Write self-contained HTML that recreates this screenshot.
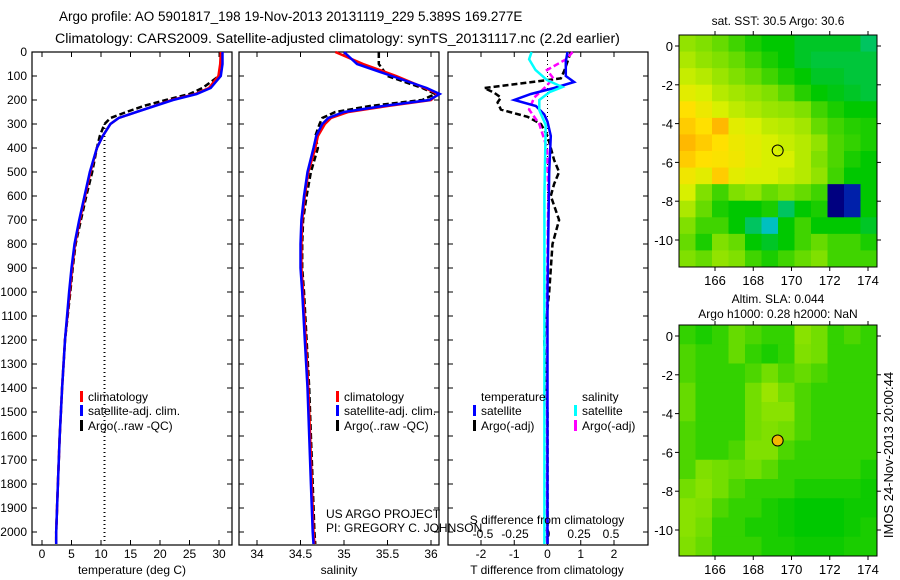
<!DOCTYPE html>
<html><head><meta charset="utf-8"><style>
body{margin:0;background:#fff;}
svg{display:block;font-family:"Liberation Sans",sans-serif;font-size:12px;}
</style></head><body>
<svg id="fig" width="900" height="580" viewBox="0 0 900 580" xmlns="http://www.w3.org/2000/svg">
<text x="59" y="21" font-size="13.5">Argo profile: AO 5901817_198 19-Nov-2013 20131119_229 5.389S 169.277E</text>
<text x="55" y="43" font-size="14.2">Climatology: CARS2009. Satellite-adjusted climatology: synTS_20131117.nc (2.2d earlier)</text>
<g id="layer"></g>
</svg>
<script>
// ---- data ----
const depthClim=[0,50,100,150,175,200,225,250,275,300,350,400,500,600,700,800,900,1000,1200,1400,1600,1800,2000,2050];
const tempClim=[30.3,30.2,29.9,28.3,26,22,19,16,13,11.6,10.3,9.3,8.2,7.3,6.4,5.6,5.1,4.7,3.9,3.4,3.0,2.7,2.4,2.4];
const tempSat=[30.6,30.6,30.3,28.6,26.2,22.2,19.1,16,13,11.6,10.3,9.3,8.1,7.2,6.3,5.5,5.0,4.6,3.9,3.4,3.0,2.7,2.4,2.4];
const tempArgo=[30.4,30.3,30.0,27.2,25,21,17.2,14.3,11.6,10.6,9.8,9.3,8.5,7.5,6.6,5.7,5.2,4.8,3.9,3.4,3.0,2.7,2.4,2.4];
const depthRaw=[300,2050];
const tempRaw=[10.6,10.6];
const salClim=[34.9,35.22,35.6,35.93,36.08,36.0,35.5,35.05,34.85,34.78,34.7,34.67,34.59,34.55,34.52,34.51,34.51,34.53,34.56,34.59,34.61,34.63,34.65,34.66];
const salSat=[35.0,35.15,35.55,35.95,36.1,35.98,35.45,35.0,34.82,34.75,34.68,34.65,34.58,34.54,34.51,34.5,34.5,34.52,34.55,34.58,34.6,34.62,34.64,34.65];
const salArgo=[35.4,35.4,35.5,35.9,36.05,35.9,35.3,34.9,34.75,34.72,34.67,34.7,34.62,34.57,34.53,34.52,34.52,34.54,34.57,34.6,34.62,34.64,34.66,34.67];
const depthDT=[0,40,100,125,150,175,200,225,260,290,350,500,1000,2050];
const dTsat=[0.6,0.55,0.55,0.8,0.2,-0.5,-1.0,-0.35,-0.1,0,0.1,0.05,0,0];
const depthDS=[0,30,75,117,146,167,200,242,304,600,2050];
const dSsat=[-0.12,-0.14,-0.09,0,0.12,0.02,-0.06,-0.06,-0.01,-0.02,-0.02];
const depthAT=[0,40,80,110,150,170,190,210,240,270,300,350,400,450,500,550,600,700,800,1000,1200,1500,2050];
const dTargo=[0.7,0.6,0.5,0.4,-1.9,-1.6,-1.4,-1.5,-1.4,-0.6,-0.2,0,0.1,0.2,0.35,0.2,0.1,0.35,0.15,0.05,-0.1,0,0];
const depthAS=[0,30,75,110,150,190,240,300,400,600,1000,2050];
const dSargo=[0.2,0.15,0,0.05,-0.02,-0.1,-0.14,-0.06,0,0.01,0,0];
const depthTicks=[0,100,200,300,400,500,600,700,800,900,1000,1100,1200,1300,1400,1500,1600,1700,1800,1900,2000];
const tempTicks=[0,5,10,15,20,25,30];
const salTicks=[34,34.5,35,35.5,36];
const dTTicks=[-2,-1,0,1,2];
const dSTicks=[-0.5,-0.25,0,0.25,0.5];
const lonTicks=[166,168,170,172,174];
const latTicks=[0,-2,-4,-6,-8,-10];
const sstGrid=[
[0.62,0.6,0.58,0.55,0.52,0.5,0.5,0.48,0.48,0.48,0.48,0.45],
[0.65,0.62,0.6,0.58,0.55,0.52,0.5,0.48,0.47,0.47,0.47,0.47],
[0.68,0.66,0.63,0.6,0.58,0.55,0.52,0.5,0.48,0.48,0.47,0.47],
[0.72,0.7,0.66,0.64,0.62,0.6,0.57,0.53,0.5,0.49,0.48,0.47],
[0.78,0.74,0.7,0.67,0.65,0.63,0.62,0.6,0.55,0.52,0.5,0.5],
[0.8,0.78,0.82,0.72,0.7,0.67,0.66,0.64,0.58,0.55,0.53,0.52],
[0.82,0.8,0.78,0.74,0.72,0.7,0.68,0.66,0.62,0.56,0.54,0.52],
[0.8,0.78,0.77,0.75,0.72,0.7,0.7,0.66,0.6,0.56,0.52,0.5],
[0.75,0.72,0.8,0.72,0.7,0.7,0.68,0.66,0.62,0.55,0.5,0.5],
[0.7,0.6,0.55,0.6,0.62,0.58,0.6,0.58,0.55,0.15,0.2,0.5],
[0.65,0.58,0.52,0.5,0.5,0.52,0.45,0.5,0.52,0.15,0.2,0.5],
[0.6,0.55,0.55,0.5,0.45,0.4,0.5,0.55,0.5,0.5,0.5,0.48],
[0.58,0.52,0.6,0.58,0.5,0.48,0.5,0.55,0.58,0.55,0.55,0.52],
[0.6,0.58,0.62,0.6,0.55,0.52,0.55,0.58,0.6,0.55,0.55,0.55]];
const slaGrid=[
[0.54,0.52,0.54,0.58,0.56,0.54,0.54,0.61,0.59,0.54,0.56,0.54],
[0.56,0.54,0.54,0.58,0.54,0.52,0.54,0.6,0.59,0.54,0.54,0.54],
[0.56,0.54,0.54,0.54,0.56,0.59,0.56,0.58,0.56,0.54,0.54,0.54],
[0.58,0.54,0.54,0.54,0.59,0.63,0.59,0.56,0.54,0.54,0.54,0.54],
[0.58,0.54,0.54,0.54,0.59,0.61,0.61,0.56,0.54,0.54,0.54,0.54],
[0.56,0.54,0.54,0.54,0.59,0.6,0.59,0.56,0.54,0.54,0.54,0.54],
[0.56,0.54,0.54,0.56,0.6,0.6,0.56,0.54,0.54,0.54,0.54,0.54],
[0.56,0.6,0.59,0.58,0.59,0.57,0.54,0.54,0.54,0.54,0.54,0.52],
[0.59,0.61,0.59,0.56,0.54,0.54,0.54,0.52,0.52,0.52,0.52,0.51],
[0.61,0.6,0.56,0.54,0.54,0.52,0.51,0.5,0.5,0.5,0.51,0.51],
[0.61,0.59,0.54,0.54,0.52,0.52,0.51,0.5,0.5,0.5,0.51,0.52],
[0.6,0.58,0.54,0.54,0.54,0.52,0.52,0.51,0.51,0.51,0.52,0.52]];
const argoLon=169.277, argoLat=-5.389;

// ---- helpers ----
const NS="http://www.w3.org/2000/svg";
const L=document.getElementById('layer');
function mk(tag,attrs,parent){const e=document.createElementNS(NS,tag);for(const k in attrs)e.setAttribute(k,attrs[k]);(parent||L).appendChild(e);return e;}
function lin(d0,d1,r0,r1){return v=>r0+(v-d0)*(r1-r0)/(d1-d0);}
const yD=lin(0,2000,52,532);
const PB=545;
function panel(x0,x1,name){const r=mk('rect',{x:x0,y:52,width:x1-x0,height:PB-52,fill:'none',stroke:'#000','stroke-width':1.2});

}
function line(xs,ds,sx,color,w,dash,name){const pts=xs.map((v,i)=>sx(v).toFixed(1)+','+yD(ds[i]).toFixed(1)).join(' ');
const p=mk('polyline',{points:pts,fill:'none',stroke:color,'stroke-width':w,'stroke-dasharray':dash||'none'});

}
function txt(x,y,s,name,anchor,size){const t=mk('text',{x:x,y:y,'text-anchor':anchor||'start','font-size':size||12});t.textContent=s;

return t;}
function xticks(vals,sx,labY,name,x0,x1,top){vals.forEach(v=>{const x=sx(v);mk('line',{x1:x,x2:x,y1:PB,y2:PB-5,stroke:'#000'});if(top)mk('line',{x1:x,x2:x,y1:52,y2:57,stroke:'#000'});if(labY)txt(x,labY,String(v),name,'middle');});}
function yticks(x0,x1){depthTicks.forEach(d=>{const y=yD(d);mk('line',{x1:x0,x2:x0+5,y1:y,y2:y,stroke:'#000'});mk('line',{x1:x1,x2:x1-5,y1:y,y2:y,stroke:'#000'});});}
function legendMark(x,y,color){const r=mk('rect',{x:x,y:y-10,width:3,height:11,fill:color});

}

// depth labels
depthTicks.forEach(d=>txt(27,yD(d)+4,String(d),'depth-tick-label','end'));

// ---- panel 1: temperature ----
const sT=lin(0,30,42,219);
panel(32,232,'temperature-panel');yticks(32,232);
xticks(tempTicks,sT,558,'temperature-tick-label',32,232,true);
line(tempRaw,depthRaw,sT,'#000',2,'1 3','argo-raw-temperature');
line(tempArgo,depthClim,sT,'#000',2.5,'6 3','argo-temperature');
line(tempClim,depthClim,sT,'#f00',2.5,null,'climatology-temperature');
line(tempSat,depthClim,sT,'#00f',2.5,null,'satellite-temperature');
txt(132,574,'temperature (deg C)','temperature-axis-title','middle');
legendMark(80,401,'#f00');txt(88,401,'climatology','legend-climatology');
legendMark(80,415,'#00f');txt(88,415,'satellite-adj. clim.','legend-satellite');
legendMark(80,430,'#000');txt(88,430,'Argo(..raw -QC)','legend-argo');

// ---- panel 2: salinity ----
const sS=lin(34,36,257,431);
panel(239,439,'salinity-panel');yticks(239,439);
xticks(salTicks,sS,558,'salinity-tick-label',239,439,true);
line(salArgo,depthClim,sS,'#000',2.5,'6 3','argo-salinity');
line(salClim,depthClim,sS,'#f00',2.5,null,'climatology-salinity');
line(salSat,depthClim,sS,'#00f',2.5,null,'satellite-salinity');
txt(339,574,'salinity','salinity-axis-title','middle');
legendMark(336,401,'#f00');txt(344,401,'climatology','legend-climatology');
legendMark(336,415,'#00f');txt(344,415,'satellite-adj. clim.','legend-satellite');
legendMark(336,430,'#000');txt(344,430,'Argo(..raw -QC)','legend-argo');
txt(326,518,'US ARGO PROJECT','project-label');
txt(326,532,'PI: GREGORY C. JOHNSON','pi-label');

// ---- panel 3: differences ----
const sdT=lin(0,1,547.5,580.75);
const sdS=lin(0,0.25,547,579);
panel(448,648,'difference-panel');yticks(448,648);
xticks(dTTicks,sdT,558,'t-diff-tick-label',448,648,true);
dSTicks.forEach(v=>txt(sdS(v),538,String(v),'s-diff-tick-label','middle'));
const zl=mk('line',{x1:sdT(0),x2:sdT(0),y1:52,y2:PB,stroke:'#000','stroke-dasharray':'1 3'});


line(dTargo,depthAT,sdT,'#000',2.5,'6 3','argo-t-diff');
line(dSargo,depthAS,sdS,'#f0f',2.5,'6 3','argo-s-diff');
line(dTsat,depthDT,sdT,'#00f',2.5,null,'satellite-t-diff');
line(dSsat,depthDS,sdS,'#0ff',2.5,null,'satellite-s-diff');
txt(547,524,'S difference from climatology','s-diff-axis-title','middle');
txt(547,574,'T difference from climatology','t-diff-axis-title','middle');
txt(481,401,'temperature','legend-temperature-heading');
txt(582,401,'salinity','legend-salinity-heading');
legendMark(473,415,'#00f');txt(481,415,'satellite','legend-t-satellite');
legendMark(473,430,'#000');txt(481,430,'Argo(-adj)','legend-t-argo');
legendMark(574,415,'#0ff');txt(582,415,'satellite','legend-s-satellite');
legendMark(574,430,'#f0f');txt(582,430,'Argo(-adj)','legend-s-argo');

// ---- maps ----
const stops=[[0.15,[0,0,128]],[0.3,[0,96,255]],[0.4,[0,192,192]],[0.5,[0,200,0]],[0.6,[128,224,0]],[0.7,[216,240,0]],[0.78,[255,224,0]],[0.86,[255,144,0]]];
function cmap(v){if(v<=stops[0][0])return 'rgb('+stops[0][1]+')';for(let i=1;i<stops.length;i++){if(v<=stops[i][0]){const a=stops[i-1],b=stops[i],t=(v-a[0])/(b[0]-a[0]);return 'rgb('+a[1].map((c,k)=>Math.round(c+(b[1][k]-c)*t)).join(',')+')';}}return 'rgb('+stops[stops.length-1][1]+')';}
function map(grid,x0,x1,y0,y1,lat0y,name,filled){
 const sx=lin(166,174,715,868), sy=lin(0,-10,lat0y,lat0y+194);
 const g=mk('g',{});
 
 
 const rows=grid.length, cols=grid[0].length, cw=(x1-x0)/cols, ch=(y1-y0)/rows;
 grid.forEach((row,r)=>row.forEach((v,c)=>{const cell=mk('rect',{x:x0+c*cw,y:y0+r*ch,width:cw+0.5,height:ch+0.5,fill:cmap(v)},g);
 
 }));
 mk('rect',{x:x0,y:y0,width:x1-x0,height:y1-y0,fill:'none',stroke:'#000'},g);
 lonTicks.forEach(v=>{const x=sx(v);mk('line',{x1:x,x2:x,y1:y0,y2:y0-4,stroke:'#000'},g);mk('line',{x1:x,x2:x,y1:y1,y2:y1+4,stroke:'#000'},g);txt(x,y1+18,String(v),'longitude-tick-label','middle',13);});
 latTicks.forEach(v=>{const y=sy(v);mk('line',{x1:x0,x2:x0-4,y1:y,y2:y,stroke:'#000'},g);mk('line',{x1:x1,x2:x1+4,y1:y,y2:y,stroke:'#000'},g);txt(x0-6,y+5,String(v),'latitude-tick-label','end',13);});
 const c=mk('circle',{cx:sx(argoLon),cy:sy(argoLat),r:5.5,fill:filled?'#f0b800':'none',stroke:'#000'},g);
 
 
}
map(sstGrid,679,877,35,267,46,'sst-map',false);
map(slaGrid,679,877,325,556,336,'sla-map',true);
txt(778,25,'sat. SST: 30.5 Argo: 30.6','sst-map-title','middle');
txt(778,303,'Altim. SLA: 0.044','sla-map-title','middle');
txt(778,318,'Argo h1000: 0.28 h2000: NaN','argo-height-title','middle');
const rt=txt(0,0,'IMOS 24-Nov-2013 20:00:44','timestamp-label','middle',13);
rt.setAttribute('transform','translate(893,455) rotate(-90)');
</script>
</body></html>
